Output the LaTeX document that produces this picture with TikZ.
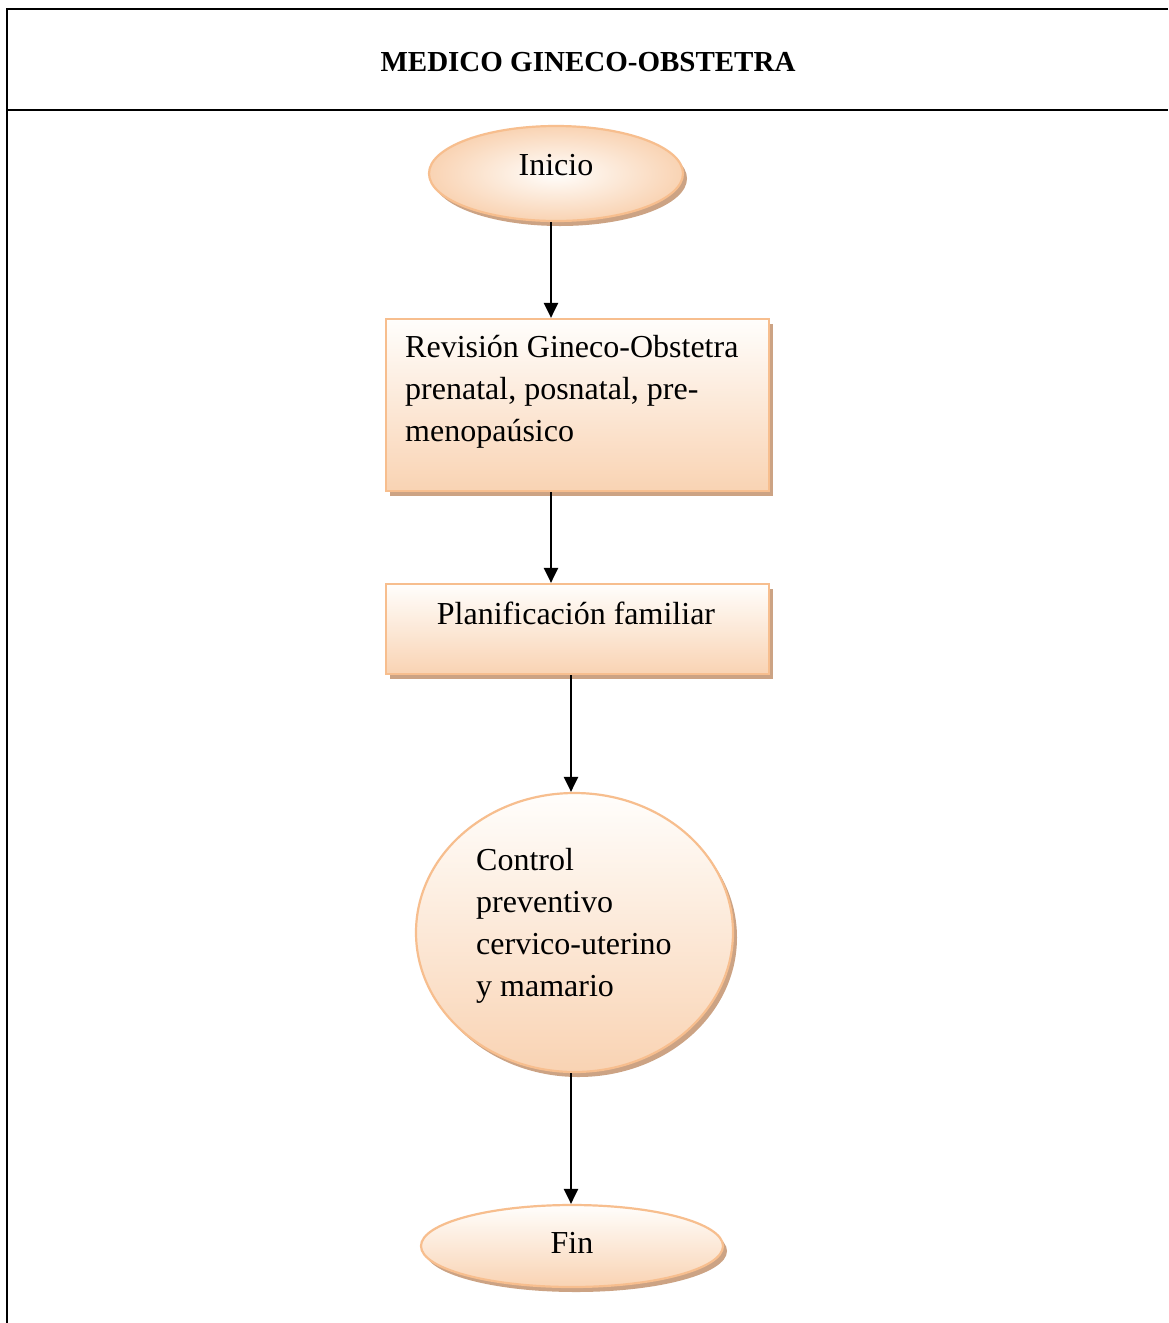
\documentclass[tikz,border=0pt]{standalone}
\usepackage{fontspec}
\setmainfont{Liberation Serif}
\usetikzlibrary{arrows.meta,shapes.geometric,shadows}
\definecolor{edgec}{RGB}{247,190,142}
\definecolor{fillbot}{RGB}{249,211,179}
\definecolor{filltop}{RGB}{255,254,252}
\definecolor{shadc}{RGB}{204,163,132}
\begin{document}
\begin{tikzpicture}[x=1pt,y=-1pt,
  frame/.style={line width=2.6pt,black,line join=miter},
  arr/.style={line width=2.4pt,-{Triangle[length=15pt,width=14pt]}},
  shapebase/.style={draw=edgec,line width=2.2pt,inner sep=0pt,
    general shadow={fill=shadc,shadow xshift=4pt,shadow yshift=-5pt}},
  vshade/.style={top color=filltop,bottom color=fillbot},
  procbox/.style={shapebase,vshade,rectangle},
  term/.style={shapebase,vshade,ellipse},
  termr/.style={shapebase,ellipse,inner color=filltop,outer color=fillbot},
  lbl/.style={font=\fontsize{32}{42}\selectfont,inner sep=0pt,text=black},
  ttl/.style={font=\fontsize{29}{34}\selectfont\bfseries,inner sep=0pt,text=black},
]
\useasboundingbox[fill=white] (0,0) rectangle (1168,1323);

% frame
\draw[frame] (1168,9) -- (7,9) -- (7,1323);
\draw[frame] (7,110) -- (1168,110);
\node[ttl,anchor=base] (title) at (588,71) {MEDICO GINECO-OBSTETRA};

% shapes
\node[termr, minimum width=254pt, minimum height=95pt] (ini) at (556,173.5) {};
\node[procbox, minimum width=383pt, minimum height=172pt] (rev) at (577.5,405) {};
\node[procbox, minimum width=383pt, minimum height=90pt] (plan) at (577.5,629) {};
\node[term, minimum width=317pt, minimum height=279pt] (ctrl) at (574.5,932.5) {};
\node[term, minimum width=302pt, minimum height=82pt] (fin) at (572,1246) {};

% labels
\node[lbl,anchor=base] (tini) at (556,175) {Inicio};
\node[lbl,anchor=north west,align=left] (trev) at (405,327)
  {\rule{0pt}{30pt}Revisión Gineco-Obstetra\\prenatal, posnatal, pre-\\menopaúsico};
\node[lbl,anchor=base] (tplan) at (576,624) {Planificación familiar};
\node[lbl,anchor=north west,align=left] (tctrl) at (476,840)
  {\rule{0pt}{30pt}Control\\preventivo\\cervico-uterino\\y mamario};
\node[lbl,anchor=base] (tfin) at (572,1253) {Fin};

% connectors
\draw[arr] (ini.south -| 551,0) -- (rev.north -| 551,0);
\draw[arr] (rev.south -| 551,0) -- (plan.north -| 551,0);
\draw[arr] (plan.south -| 571,0) -- (ctrl.north -| 571,0);
\draw[arr] (ctrl.south -| 571,0) -- (fin.north -| 571,0);
\end{tikzpicture}
\end{document}
